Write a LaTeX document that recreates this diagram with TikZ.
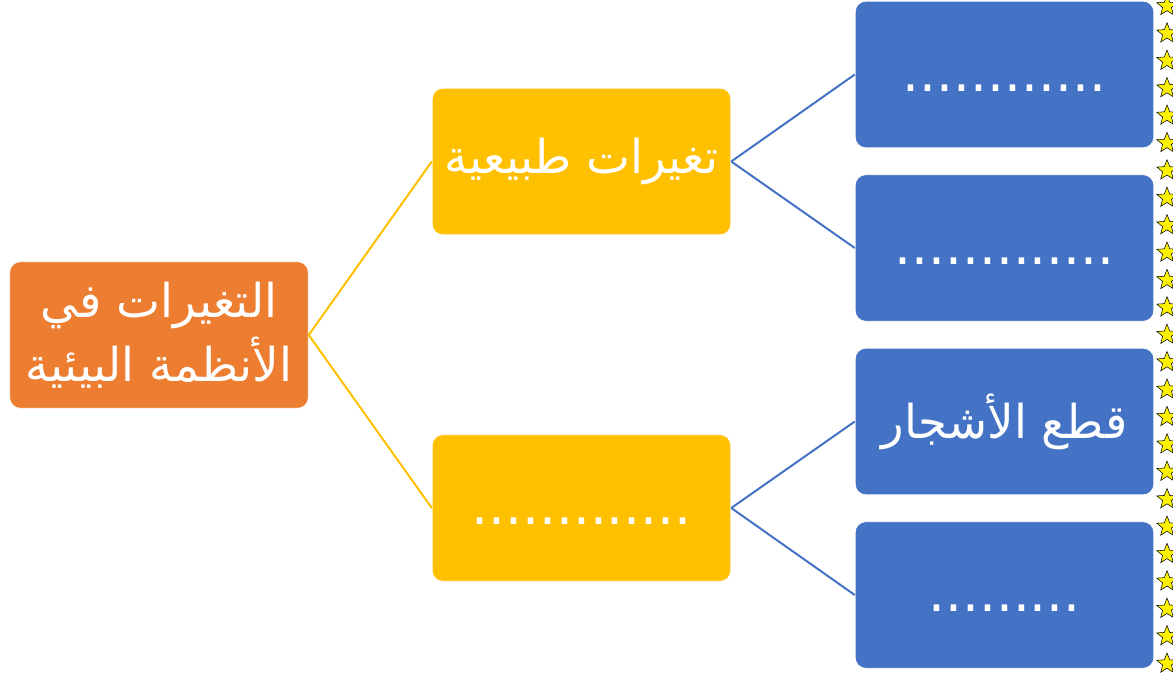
\documentclass[tikz,border=0pt]{standalone}
\usepackage{fontspec}
\usetikzlibrary{shapes.geometric}
\newfontfamily\arabicfont[Script=Arabic]{DejaVu Sans}
\TeXXeTstate=1
\definecolor{rootorange}{HTML}{ED7D31}
\definecolor{midyellow}{HTML}{FFC000}
\definecolor{leafblue}{HTML}{4472C4}
\newcommand{\lowdots}[1]{\smash{\raisebox{-12.5pt}{#1}}}
\begin{document}
\begin{tikzpicture}[x=0.75pt, y=-0.75pt,
	box/.style={rounded corners=8pt, draw=white, line width=0.6pt, minimum width=224pt, minimum height=110pt, inner sep=0pt, text=white, font=\arabicfont\fontsize{35}{48}\selectfont, align=center},
	rootbox/.style={box, fill=rootorange},
	midbox/.style={box, fill=midyellow},
	leafbox/.style={box, fill=leafblue},
	dotline/.style={font=\arabicfont\fontsize{40}{40}\selectfont},
	starmark/.style={star, star points=5, star point ratio=2.3, minimum size=16pt, inner sep=0pt, fill=yellow, draw=black, line width=0.4pt}]
	\useasboundingbox (0,0) rectangle (1173,673);
	% boxes
	\node[rootbox] (root) at (159,335) {\beginR التغيرات في\endR\\\beginR الأنظمة البيئية\endR};
	\node[midbox] (nat) at (581.5,161.5) {\beginR تغيرات طبيعية\endR};
	\node[midbox, dotline] (hum) at (581.5,508) {\lowdots{.............}};
	\node[leafbox, dotline] (n1) at (1004.5,74.5) {\lowdots{............}};
	\node[leafbox, dotline] (n2) at (1004.5,248) {\lowdots{.............}};
	\node[leafbox] (h1) at (1004.5,421.5) {\beginR قطع الأشجار\endR};
	\node[leafbox, dotline] (h2) at (1004.5,595) {\lowdots{.........}};
	% connectors
	\draw[midyellow, line width=1.5pt] (root.east) -- (nat.west);
	\draw[midyellow, line width=1.5pt] (root.east) -- (hum.west);
	\foreach \a/\b in {nat/n1, nat/n2, hum/h1, hum/h2}{
		\draw[leafblue, line width=1.5pt] (\a.east) -- (\b.west);
	}
	% stars on the edge
	\foreach \k in {0,...,24}{
		\node[starmark] (s\k) at (1167, {6+27.4*\k}) {};
	}
\end{tikzpicture}
\end{document}
